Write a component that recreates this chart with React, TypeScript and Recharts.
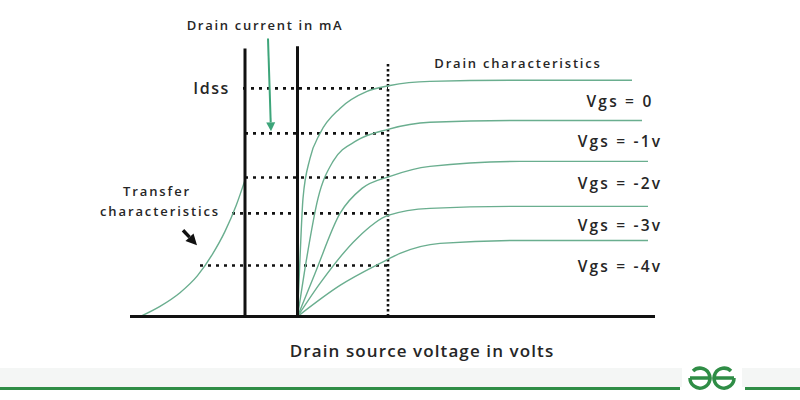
import React from "react";
import {
  ComposedChart,
  Line,
  XAxis,
  YAxis,
  ReferenceLine,
  ReferenceDot,
} from "recharts";

// Plot coordinate system: x = voltage-like units, y = drain current (mA-like units)
const X_DOMAIN: [number, number] = [-11.9, 20.1];
const Y_DOMAIN: [number, number] = [-3.67, 13.93];

// Transfer characteristic (left of the Id axis)
const transferCurve = [
  { x: -6.3, y: 0 },
  { x: -5.5, y: 0.45 },
  { x: -4.7, y: 1.05 },
  { x: -4.0, y: 1.8 },
  { x: -3.4, y: 2.75 },
  { x: -2.9, y: 3.75 },
  { x: -2.45, y: 4.9 },
  { x: -2.1, y: 6.01 },
];

// Drain characteristics for each Vgs
const vgs0 = [
  { x: 0, y: 0 },
  { x: 0.1, y: 2.56 },
  { x: 0.22, y: 5.2 },
  { x: 0.5, y: 6.96 },
  { x: 0.9, y: 8.06 },
  { x: 1.7, y: 9.16 },
  { x: 2.78, y: 9.91 },
  { x: 3.7, y: 10.17 },
  { x: 5.3, y: 10.35 },
  { x: 8.9, y: 10.4 },
  { x: 13.38, y: 10.4 },
];
const vgs1 = [
  { x: 0, y: 0 },
  { x: 0.3, y: 2.12 },
  { x: 0.82, y: 5.2 },
  { x: 1.42, y: 6.83 },
  { x: 2.38, y: 7.75 },
  { x: 3.62, y: 8.24 },
  { x: 5.3, y: 8.55 },
  { x: 8.9, y: 8.63 },
  { x: 13.78, y: 8.63 },
];
const vgs2 = [
  { x: 0, y: 0 },
  { x: 0.7, y: 1.9 },
  { x: 1.7, y: 4.54 },
  { x: 2.58, y: 5.64 },
  { x: 3.7, y: 6.17 },
  { x: 5.3, y: 6.61 },
  { x: 8.9, y: 6.83 },
  { x: 14.02, y: 6.83 },
];
const vgs3 = [
  { x: 0, y: 0 },
  { x: 0.9, y: 1.46 },
  { x: 2.38, y: 3.44 },
  { x: 3.62, y: 4.45 },
  { x: 5.3, y: 4.76 },
  { x: 8.9, y: 4.85 },
  { x: 14.02, y: 4.85 },
];
const vgs4 = [
  { x: 0, y: 0 },
  { x: 1.7, y: 1.37 },
  { x: 3.3, y: 2.34 },
  { x: 4.1, y: 2.78 },
  { x: 5.7, y: 3.22 },
  { x: 8.9, y: 3.35 },
  { x: 14.02, y: 3.35 },
];
const drainSeries = [vgs0, vgs1, vgs2, vgs3, vgs4];

// Axes / guide lines
const baseline = { x1: -6.7, x2: 14.3, y: 0 };
const transferAxis = { x: -2.1, top: 11.8 };
const drainAxis = { x: 0, top: 11.89 };
const pinchOff = { x: 3.62, top: 11.14 };
const levelY = [10.04, 8.06, 6.12, 4.54, 2.25];
const levelStart = [-2.18, -2.1, -2.1, -2.62, -3.9];

// Labels
const vgsLabels = ["Vgs = 0", "Vgs = -1v", "Vgs = -2v", "Vgs = -3v", "Vgs = -4v"];
const vgsLabelY = [9.47, 7.71, 5.86, 4.02, 2.21];
const vgsLabelX = 12.9;

const textLabels = [
  { x: -1.3, y: 12.81, text: "Drain current in mA", size: 13, weight: 600, ls: 1.7, anchor: "middle" },
  { x: 8.82, y: 11.14, text: "Drain characteristics", size: 13, weight: 600, ls: 1.8, anchor: "middle" },
  { x: -2.7, y: 10.04, text: "Idss", size: 16, weight: 600, ls: 1.6, anchor: "end" },
  { x: -5.62, y: 5.51, text: "Transfer", size: 13, weight: 600, ls: 1.9, anchor: "middle" },
  { x: -5.5, y: 4.63, text: "characteristics", size: 13, weight: 600, ls: 1.9, anchor: "middle" },
  { x: 4.98, y: -1.49, text: "Drain source voltage in volts", size: 17, weight: 600, ls: 1.1, anchor: "middle" },
];

// Arrows
const greenArrow = [{ x: -1.18, y: 12.24 }, { x: -1.06, y: 8.15 }];
const blackArrow = [{ x: -4.58, y: 3.8 }, { x: -4.02, y: 3.14 }];

const CURVE = "#6aae8f";
const INK = "#111";

const makeArrow = (color: string, width: number, head: number) => (p: any) => {
  const { x1, y1, x2, y2 } = p;
  const ang = Math.atan2(y2 - y1, x2 - x1);
  const hx = x2 - head * Math.cos(ang);
  const hy = y2 - head * Math.sin(ang);
  const px = Math.cos(ang + Math.PI / 2) * head * 0.5;
  const py = Math.sin(ang + Math.PI / 2) * head * 0.5;
  return (
    <g>
      <line x1={x1} y1={y1} x2={hx} y2={hy} stroke={color} strokeWidth={width} />
      <polygon points={`${x2},${y2} ${hx + px},${hy + py} ${hx - px},${hy - py}`} fill={color} />
    </g>
  );
};

const makeText = (t: any) => (p: any) => (
  <text
    x={p.cx}
    y={p.cy}
    textAnchor={t.anchor}
    dominantBaseline="central"
    fontFamily="'Open Sans', sans-serif"
    fontSize={t.size}
    fontWeight={t.weight}
    letterSpacing={t.ls}
    fill="#262626"
  >
    {t.text}
  </text>
);

function Logo() {
  const r = 10;
  const cy = 378;
  const l = 700;
  const rr = 724;
  return (
    <svg width={800} height={400} style={{ position: "absolute", left: 0, top: 0, pointerEvents: "none" }}>
      <rect x={0} y={368} width={800} height={19} fill="#f4f6f5" />
      <rect x={0} y={387} width={680} height={3} fill="#2f8d46" />
      <rect x={745} y={387} width={55} height={3} fill="#2f8d46" />
      <rect x={682} y={362} width={60} height={34} fill="#ffffff" />
      <g stroke="#2f8d46" strokeWidth={3.5} fill="none">
        <path d={`M${l - r},${cy} H${l + r} M${l - r},${cy} A${r},${r} 0 1 0 ${l - 0.7 * r},${cy - 0.7 * r}`} />
        <path d={`M${rr - r},${cy} H${rr + r} M${rr + r},${cy} A${r},${r} 0 1 1 ${rr + 0.7 * r},${cy - 0.7 * r}`} />
      </g>
    </svg>
  );
}

export default function App() {
  return (
    <div style={{ position: "absolute", left: 0, top: 0, width: 800, height: 400, background: "#fff" }}>
      <ComposedChart width={800} height={400} margin={{ top: 0, right: 0, bottom: 0, left: 0 }}>
        <XAxis type="number" dataKey="x" domain={X_DOMAIN} hide allowDataOverflow />
        <YAxis type="number" dataKey="y" domain={Y_DOMAIN} hide allowDataOverflow width={0} />

        {levelY.map((y, i) => (
          <ReferenceLine
            key={"lv" + i}
            segment={[{ x: levelStart[i], y }, { x: pinchOff.x, y }]}
            stroke={INK}
            strokeWidth={2.6}
            strokeDasharray="3 5"
            ifOverflow="visible"
          />
        ))}
        <ReferenceLine
          segment={[{ x: pinchOff.x, y: 0 }, { x: pinchOff.x, y: pinchOff.top }]}
          stroke={INK}
          strokeWidth={2.6}
          strokeDasharray="2.5 2.5"
          ifOverflow="visible"
        />

        <Line data={transferCurve} dataKey="y" type="monotone" stroke={CURVE} strokeWidth={1.4} dot={false} activeDot={false} isAnimationActive={false} />
        {drainSeries.map((d, i) => (
          <Line key={"d" + i} data={d} dataKey="y" type="monotone" stroke={CURVE} strokeWidth={1.4} dot={false} activeDot={false} isAnimationActive={false} />
        ))}

        <ReferenceLine segment={[{ x: baseline.x1, y: baseline.y }, { x: baseline.x2, y: baseline.y }]} stroke={INK} strokeWidth={3} ifOverflow="visible" />
        <ReferenceLine segment={[{ x: transferAxis.x, y: 0 }, { x: transferAxis.x, y: transferAxis.top }]} stroke={INK} strokeWidth={3} ifOverflow="visible" />
        <ReferenceLine segment={[{ x: drainAxis.x, y: 0 }, { x: drainAxis.x, y: drainAxis.top }]} stroke={INK} strokeWidth={3} ifOverflow="visible" />

        <ReferenceLine segment={greenArrow} ifOverflow="visible" shape={makeArrow("#3da57a", 2, 9)} />
        <ReferenceLine segment={blackArrow} ifOverflow="visible" shape={makeArrow(INK, 3.4, 11)} />

        {textLabels.map((t, i) => (
          <ReferenceDot key={"t" + i} x={t.x} y={t.y} r={0} ifOverflow="visible" shape={makeText(t)} />
        ))}
        {vgsLabels.map((s, i) => (
          <ReferenceDot
            key={"v" + i}
            x={vgsLabelX}
            y={vgsLabelY[i]}
            r={0}
            ifOverflow="visible"
            shape={makeText({ text: s, size: 15.5, weight: 600, ls: 2.2, anchor: "middle" })}
          />
        ))}
      </ComposedChart>
      <Logo />
    </div>
  );
}
